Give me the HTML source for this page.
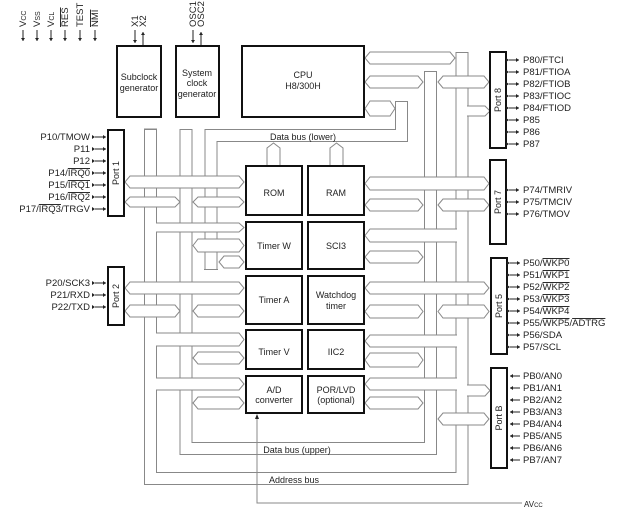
<!DOCTYPE html>
<html><head><meta charset="utf-8"><style>
html,body{margin:0;padding:0;background:#fff;}
svg{display:block;font-family:"Liberation Sans",sans-serif;}
text{font-size:9.5px;fill:#222;}
.bt text{font-size:9px;}
.b{fill:none;stroke:#111;stroke-width:2;}
.c{fill:#fff;stroke:#888;stroke-width:1;}
.w{fill:none;stroke:#fff;}
.g{fill:none;stroke:#888;stroke-width:13;}
</style></head><body>
<svg width="618" height="511" viewBox="0 0 618 511" xmlns="http://www.w3.org/2000/svg">
<defs>
<marker id="ad" markerWidth="6" markerHeight="6" refX="3" refY="3" orient="auto"><path d="M0,1 L3,3 L0,5 z" fill="#222"/></marker>
</defs>
<g>
<path class="g" d="M150.5 129 V478.5 H462 V52"/>
<path class="w" stroke-width="11" d="M150.5 130 V478.5 H462 V53"/>
<line x1="144" y1="129" x2="157" y2="129" stroke="#888"/>
<line x1="456" y1="52.5" x2="468" y2="52.5" stroke="#888"/>
<path class="g" d="M186 129 V448.5 H430.5 V71"/>
<path class="w" stroke-width="11" d="M186 130 V448.5 H430.5 V72"/>
<line x1="180" y1="129.5" x2="192" y2="129.5" stroke="#888"/>
<line x1="424" y1="71.5" x2="437" y2="71.5" stroke="#888"/>
<path class="g" d="M401.5 101 V135.5 H211 V270"/>
<path class="w" stroke-width="11" d="M401.5 102 V135.5 H211 V269"/>
<line x1="395" y1="101.5" x2="408" y2="101.5" stroke="#888"/>
<line x1="204" y1="269.5" x2="218" y2="269.5" stroke="#888"/>
</g>
<path d="M257 416 V503 H522" fill="none" stroke="#888"/>
<path d="M255 419 L257 414 L259 419 z" fill="#222"/>
<g class="c">
<polygon points="365,58 370,52 450,52 455,58 450,64 370,64"/>
<polygon points="365,82 370,76 418,76 423,82 418,88 370,88"/>
<polygon points="365,108.5 370,101 390,101 395,108.5 390,116 370,116"/>
<polygon points="267,148 273.5,143 280,148 280,166 267,166"/>
<polygon points="330,148 336.5,143 343,148 343,166 330,166"/>
<polygon points="125,182 130,176 239,176 244,182 239,188 130,188"/>
<polygon points="125,202 130,197 175,197 180,202 175,207 130,207"/>
<polygon points="193,202 198,197 239,197 244,202 239,207 198,207"/>
<polygon points="193,245.5 198,239 239,239 244,245.5 239,252 198,252"/>
<polygon points="219,262 224,256 239,256 244,262 239,268 224,268"/>
<polygon points="125,288 130,282 239,282 244,288 239,294 130,294"/>
<polygon points="125,311 130,305 175,305 180,311 175,317 130,317"/>
<polygon points="193,311 198,305 239,305 244,311 239,317 198,317"/>
<polygon points="193,358 198,352 239,352 244,358 239,364 198,364"/>
<polygon points="193,403 198,397 239,397 244,403 239,409 198,409"/>
<polygon points="365,183.5 370,177 484,177 489,183.5 484,190 370,190"/>
<polygon points="365,205 370,199 418,199 423,205 418,211 370,211"/>
<polygon points="438,205 443,199 484,199 489,205 484,211 443,211"/>
<polygon points="438,82 443,76 484,76 489,82 484,88 443,88"/>
<polygon points="365,257 370,251 418,251 423,257 418,263 370,263"/>
<polygon points="365,288 370,282 484,282 489,288 484,294 370,294"/>
<polygon points="365,311.5 370,305 418,305 423,311.5 418,318 370,318"/>
<polygon points="438,311.5 443,305 484,305 489,311.5 484,318 443,318"/>
<polygon points="365,360 370,353 418,353 423,360 418,367 370,367"/>
<polygon points="365,403 370,397 418,397 423,403 418,409 370,409"/>
<polygon points="438,419 443,413 484,413 489,419 484,425 443,425"/>
<path d="M156 223 H239 L244 227.5 L239 232 H156"/>
<path d="M156 333 H239 L244 339.5 L239 346 H156"/>
<path d="M156 378 H239 L244 384 L239 390 H156"/>
<path d="M457 229 H370 L365 235.5 L370 242 H457"/>
<path d="M457 335 H370 L365 341 L370 347 H457"/>
<path d="M457 378 H370 L365 384 L370 390 H457"/>
<path d="M467 106 H485 L490 111 L485 116 H467"/>
<path d="M467 385 H485 L490 390.5 L485 396 H467"/>
</g>
<g class="b">
<rect x="117" y="46" width="44" height="71"/>
<rect x="176" y="46" width="43" height="71"/>
<rect x="242" y="46" width="122" height="71"/>
<rect x="108" y="130" width="16" height="86"/>
<rect x="108" y="267" width="16" height="58"/>
<rect x="490" y="52" width="16" height="96"/>
<rect x="490" y="160" width="16" height="84"/>
<rect x="491" y="258" width="16" height="96"/>
<rect x="491" y="368" width="16" height="100"/>
<rect x="246" y="166" width="56" height="49"/>
<rect x="308" y="166" width="56" height="49"/>
<rect x="246" y="222" width="56" height="47"/>
<rect x="308" y="222" width="56" height="47"/>
<rect x="246" y="276" width="56" height="48"/>
<rect x="308" y="276" width="56" height="48"/>
<rect x="246" y="330" width="56" height="39"/>
<rect x="308" y="330" width="56" height="39"/>
<rect x="246" y="376" width="56" height="37"/>
<rect x="308" y="376" width="56" height="37"/>
</g>
<g text-anchor="middle" class="bt">
<text x="139" y="80">Subclock</text><text x="139" y="91">generator</text>
<text x="197" y="76">System</text><text x="197" y="86">clock</text><text x="197" y="97">generator</text>
<text x="303" y="78">CPU</text><text x="303" y="89">H8/300H</text>
<text x="274" y="196">ROM</text><text x="336" y="196">RAM</text>
<text x="274" y="249">Timer W</text><text x="336" y="249">SCI3</text>
<text x="274" y="303">Timer A</text><text x="336" y="298">Watchdog</text><text x="336" y="309">timer</text>
<text x="274" y="355">Timer V</text><text x="336" y="355">IIC2</text>
<text x="274" y="393">A/D</text><text x="274" y="403">converter</text>
<text x="336" y="393">POR/LVD</text><text x="336" y="403">(optional)</text>
<text x="303" y="140">Data bus (lower)</text>
<text x="297" y="453">Data bus (upper)</text>
<text x="294" y="483">Address bus</text>
<text transform="translate(119,173) rotate(-90)">Port 1</text>
<text transform="translate(119,296) rotate(-90)">Port 2</text>
<text transform="translate(501,100) rotate(-90)">Port 8</text>
<text transform="translate(501,202) rotate(-90)">Port 7</text>
<text transform="translate(502,306) rotate(-90)">Port 5</text>
<text transform="translate(502,418) rotate(-90)">Port B</text>
</g>
<text x="524" y="507" style="font-size:8px">AV<tspan style="font-size:6px">CC</tspan></text>
<g stroke="#222" fill="none">
<line x1="23" y1="30" x2="23" y2="41" marker-end="url(#ad)"/>
<line x1="37" y1="30" x2="37" y2="41" marker-end="url(#ad)"/>
<line x1="51" y1="30" x2="51" y2="41" marker-end="url(#ad)"/>
<line x1="65" y1="30" x2="65" y2="41" marker-end="url(#ad)"/>
<line x1="80" y1="30" x2="80" y2="41" marker-end="url(#ad)"/>
<line x1="95" y1="30" x2="95" y2="41" marker-end="url(#ad)"/>
<line x1="135" y1="30" x2="135" y2="43" marker-end="url(#ad)"/>
<line x1="143" y1="45" x2="143" y2="32" marker-end="url(#ad)"/>
<line x1="193" y1="30" x2="193" y2="43" marker-end="url(#ad)"/>
<line x1="201" y1="45" x2="201" y2="32" marker-end="url(#ad)"/>
</g>
<g>
<text transform="translate(26,27) rotate(-90)">V<tspan style="font-size:7px">CC</tspan></text>
<text transform="translate(40,27) rotate(-90)">V<tspan style="font-size:7px">SS</tspan></text>
<text transform="translate(54,27) rotate(-90)">V<tspan style="font-size:7px">CL</tspan></text>
<text transform="translate(68,27) rotate(-90)" text-decoration="overline">RES</text>
<text transform="translate(83,27) rotate(-90)">TEST</text>
<text transform="translate(98,27) rotate(-90)" text-decoration="overline">NMI</text>
<text transform="translate(138,27) rotate(-90)">X1</text>
<text transform="translate(146,27) rotate(-90)">X2</text>
<text transform="translate(196,27) rotate(-90)">OSC1</text>
<text transform="translate(204,27) rotate(-90)">OSC2</text>
</g>
<g stroke="#222">
<line x1="95" y1="137" x2="106" y2="137" marker-end="url(#ad)" marker-start="url(#ad)"/>
<line x1="95" y1="149" x2="106" y2="149" marker-end="url(#ad)" marker-start="url(#ad)"/>
<line x1="95" y1="161" x2="106" y2="161" marker-end="url(#ad)" marker-start="url(#ad)"/>
<line x1="95" y1="173" x2="106" y2="173" marker-end="url(#ad)" marker-start="url(#ad)"/>
<line x1="95" y1="185" x2="106" y2="185" marker-end="url(#ad)" marker-start="url(#ad)"/>
<line x1="95" y1="197" x2="106" y2="197" marker-end="url(#ad)" marker-start="url(#ad)"/>
<line x1="95" y1="209" x2="106" y2="209" marker-end="url(#ad)" marker-start="url(#ad)"/>
<line x1="95" y1="283" x2="106" y2="283" marker-end="url(#ad)" marker-start="url(#ad)"/>
<line x1="95" y1="295" x2="106" y2="295" marker-end="url(#ad)" marker-start="url(#ad)"/>
<line x1="95" y1="307" x2="106" y2="307" marker-end="url(#ad)" marker-start="url(#ad)"/>
</g>
<g text-anchor="end">
<text x="90" y="140">P10/TMOW</text>
<text x="90" y="152">P11</text>
<text x="90" y="164">P12</text>
<text x="90" y="176">P14/<tspan text-decoration="overline">IRQ0</tspan></text>
<text x="90" y="188">P15/<tspan text-decoration="overline">IRQ1</tspan></text>
<text x="90" y="200">P16/<tspan text-decoration="overline">IRQ2</tspan></text>
<text x="90" y="212">P17/<tspan text-decoration="overline">IRQ3</tspan>/TRGV</text>
<text x="90" y="286">P20/SCK3</text>
<text x="90" y="298">P21/RXD</text>
<text x="90" y="310">P22/TXD</text>
</g>
<g stroke="#222">
<line x1="509" y1="60" x2="519" y2="60" marker-end="url(#ad)" marker-start="url(#ad)"/>
<line x1="509" y1="72" x2="519" y2="72" marker-end="url(#ad)" marker-start="url(#ad)"/>
<line x1="509" y1="84" x2="519" y2="84" marker-end="url(#ad)" marker-start="url(#ad)"/>
<line x1="509" y1="96" x2="519" y2="96" marker-end="url(#ad)" marker-start="url(#ad)"/>
<line x1="509" y1="108" x2="519" y2="108" marker-end="url(#ad)" marker-start="url(#ad)"/>
<line x1="509" y1="120" x2="519" y2="120" marker-end="url(#ad)" marker-start="url(#ad)"/>
<line x1="509" y1="132" x2="519" y2="132" marker-end="url(#ad)" marker-start="url(#ad)"/>
<line x1="509" y1="144" x2="519" y2="144" marker-end="url(#ad)" marker-start="url(#ad)"/>
<line x1="509" y1="190" x2="519" y2="190" marker-end="url(#ad)" marker-start="url(#ad)"/>
<line x1="509" y1="202" x2="519" y2="202" marker-end="url(#ad)" marker-start="url(#ad)"/>
<line x1="509" y1="214" x2="519" y2="214" marker-end="url(#ad)" marker-start="url(#ad)"/>
<line x1="510" y1="263" x2="520" y2="263" marker-end="url(#ad)" marker-start="url(#ad)"/>
<line x1="510" y1="275" x2="520" y2="275" marker-end="url(#ad)" marker-start="url(#ad)"/>
<line x1="510" y1="287" x2="520" y2="287" marker-end="url(#ad)" marker-start="url(#ad)"/>
<line x1="510" y1="299" x2="520" y2="299" marker-end="url(#ad)" marker-start="url(#ad)"/>
<line x1="510" y1="311" x2="520" y2="311" marker-end="url(#ad)" marker-start="url(#ad)"/>
<line x1="510" y1="323" x2="520" y2="323" marker-end="url(#ad)" marker-start="url(#ad)"/>
<line x1="510" y1="335" x2="520" y2="335" marker-end="url(#ad)" marker-start="url(#ad)"/>
<line x1="510" y1="347" x2="520" y2="347" marker-end="url(#ad)" marker-start="url(#ad)"/>
<line x1="520" y1="376" x2="510" y2="376" marker-end="url(#ad)"/>
<line x1="520" y1="388" x2="510" y2="388" marker-end="url(#ad)"/>
<line x1="520" y1="400" x2="510" y2="400" marker-end="url(#ad)"/>
<line x1="520" y1="412" x2="510" y2="412" marker-end="url(#ad)"/>
<line x1="520" y1="424" x2="510" y2="424" marker-end="url(#ad)"/>
<line x1="520" y1="436" x2="510" y2="436" marker-end="url(#ad)"/>
<line x1="520" y1="448" x2="510" y2="448" marker-end="url(#ad)"/>
<line x1="520" y1="460" x2="510" y2="460" marker-end="url(#ad)"/>
</g>
<g>
<text x="523" y="63">P80/FTCI</text>
<text x="523" y="75">P81/FTIOA</text>
<text x="523" y="87">P82/FTIOB</text>
<text x="523" y="99">P83/FTIOC</text>
<text x="523" y="111">P84/FTIOD</text>
<text x="523" y="123">P85</text>
<text x="523" y="135">P86</text>
<text x="523" y="147">P87</text>
<text x="523" y="193">P74/TMRIV</text>
<text x="523" y="205">P75/TMCIV</text>
<text x="523" y="217">P76/TMOV</text>
<text x="523" y="266">P50/<tspan text-decoration="overline">WKP0</tspan></text>
<text x="523" y="278">P51/<tspan text-decoration="overline">WKP1</tspan></text>
<text x="523" y="290">P52/<tspan text-decoration="overline">WKP2</tspan></text>
<text x="523" y="302">P53/<tspan text-decoration="overline">WKP3</tspan></text>
<text x="523" y="314">P54/<tspan text-decoration="overline">WKP4</tspan></text>
<text x="523" y="326">P55/<tspan text-decoration="overline">WKP5</tspan>/<tspan text-decoration="overline">ADTRG</tspan></text>
<text x="523" y="338">P56/SDA</text>
<text x="523" y="350">P57/SCL</text>
<text x="523" y="379">PB0/AN0</text>
<text x="523" y="391">PB1/AN1</text>
<text x="523" y="403">PB2/AN2</text>
<text x="523" y="415">PB3/AN3</text>
<text x="523" y="427">PB4/AN4</text>
<text x="523" y="439">PB5/AN5</text>
<text x="523" y="451">PB6/AN6</text>
<text x="523" y="463">PB7/AN7</text>
</g>
</svg>
</body></html>
